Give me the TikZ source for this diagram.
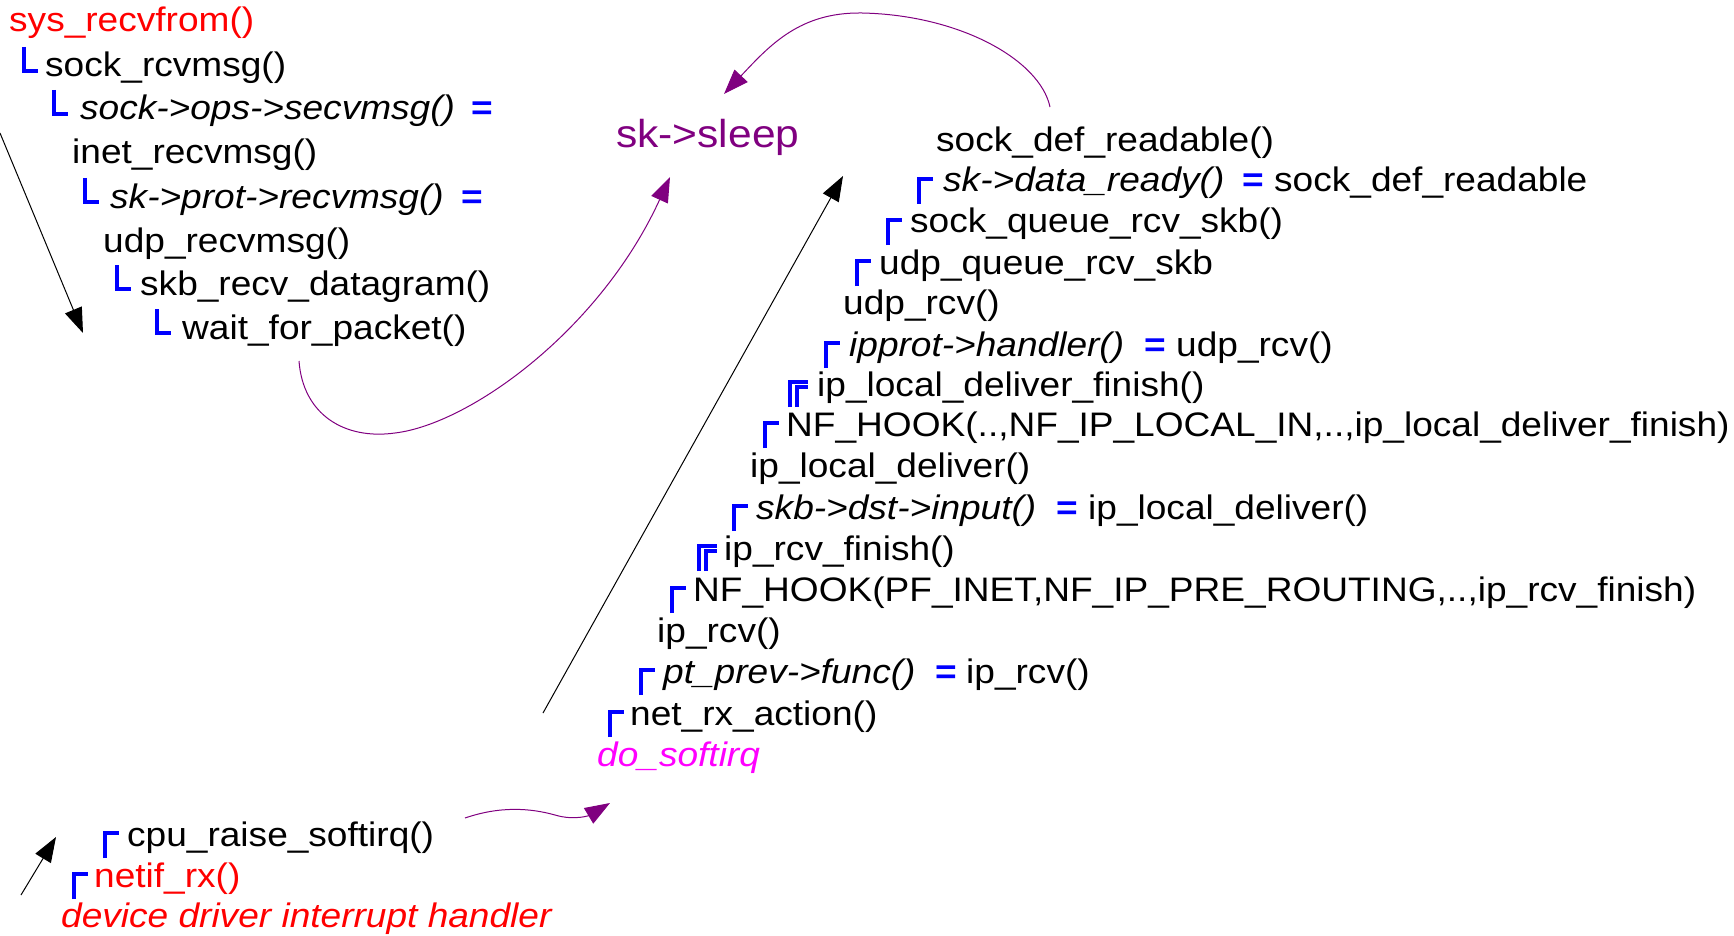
\documentclass[tikz,border=0pt]{standalone}
\usepackage{fontspec}
\setmainfont{Liberation Sans}[FakeStretch=1.09]
\usetikzlibrary{arrows.meta}

\definecolor{sleepc}{RGB}{128,0,128}
\definecolor{irqc}{RGB}{255,0,255}

\begin{document}
\begin{tikzpicture}[
    x=1pt, y=-1pt,
    call/.style={anchor=base west, inner sep=0pt, font=\fontsize{34}{40}\selectfont},
    ptr/.style={call, font=\fontsize{34}{40}\selectfont\itshape},
    eqs/.style={call, text=blue, font=\fontsize{34}{40}\selectfont\bfseries},
    brkt/.style={draw=blue, line width=3.3pt},
    arrow/.style={-{Triangle[length=25pt, width=18pt]}, line width=1pt},
    wake/.style={arrow, sleepc}
]
\useasboundingbox (0,0) rectangle (1734,936);

% Receive call chain
\node[call, text=red] (recvfrom) at (9,32) {sys\_recvfrom()};
\node[call] (rcvmsg) at (45,77) {sock\_rcvmsg()};
\node[ptr] (opsrecv) at (80,120) {sock->ops->secvmsg()};
\node[eqs] (opseq) at (471,120) {=};
\node[call] (inetrecv) at (72,164) {inet\_recvmsg()};
\node[ptr] (protrecv) at (110,208) {sk->prot->recvmsg()};
\node[eqs] (proteq) at (461,208) {=};
\node[call] (udprecv) at (103,252) {udp\_recvmsg()};
\node[call] (dgram) at (140,295) {skb\_recv\_datagram()};
\node[call] (waitpkt) at (182,339) {wait\_for\_packet()};

\draw[brkt] ([shift={(-21,-30)}]rcvmsg.base west) |- ++(14,24);
\draw[brkt] ([shift={(-26,-30)}]opsrecv.base west) |- ++(14,24);
\draw[brkt] ([shift={(-25,-30)}]protrecv.base west) |- ++(14,24);
\draw[brkt] ([shift={(-23,-30)}]dgram.base west) |- ++(14,24);
\draw[brkt] ([shift={(-25,-30)}]waitpkt.base west) |- ++(14,24);

% Wait queue
\node[call, text=sleepc, font=\fontsize{39}{46}\selectfont] (sleep) at (616,148) {sk->sleep};

% Softirq path
\node[call] (defread) at (936,152) {sock\_def\_readable()};
\node[ptr] (dready) at (943,192) {sk->data\_ready()};
\node[eqs] (dreadyeq) at (1242,192) {=};
\node[call] (dreadyval) at (1274,192) {sock\_def\_readable};
\node[call] (queuercv) at (910,233) {sock\_queue\_rcv\_skb()};
\node[call] (udpqueue) at (879,274) {udp\_queue\_rcv\_skb};
\node[call] (udprcv) at (843,314) {udp\_rcv()};
\node[ptr] (handler) at (849,356) {ipprot->handler()};
\node[eqs] (handlereq) at (1144,356) {=};
\node[call] (handlerval) at (1176,356) {udp\_rcv()};
\node[call] (localfin) at (817,396) {ip\_local\_deliver\_finish()};
\node[call] (localhook) at (786,436) {NF\_HOOK(..,NF\_IP\_LOCAL\_IN,..,ip\_local\_deliver\_finish)};
\node[call] (localdel) at (750,477) {ip\_local\_deliver()};
\node[ptr] (dstinput) at (756,519) {skb->dst->input()};
\node[eqs] (dstinputeq) at (1056,519) {=};
\node[call] (dstinputval) at (1088,519) {ip\_local\_deliver()};
\node[call] (rcvfin) at (724,560) {ip\_rcv\_finish()};
\node[call] (prehook) at (693,601) {NF\_HOOK(PF\_INET,NF\_IP\_PRE\_ROUTING,..,ip\_rcv\_finish)};
\node[call] (iprcv) at (657,642) {ip\_rcv()};
\node[ptr] (ptfunc) at (663,683) {pt\_prev->func()};
\node[eqs] (ptfunceq) at (935,683) {=};
\node[call] (ptfuncval) at (966,683) {ip\_rcv()};
\node[call] (rxaction) at (630,725) {net\_rx\_action()};
\node[ptr, text=irqc] (softirq) at (597,766) {do\_softirq};

\draw[brkt] ([shift={(-24,12)}]dready.base west) |- ++(14,-25);
\draw[brkt] ([shift={(-22,12)}]queuercv.base west) |- ++(14,-25);
\draw[brkt] ([shift={(-22,12)}]udpqueue.base west) |- ++(14,-25);
\draw[brkt] ([shift={(-23,12)}]handler.base west) |- ++(14,-25);
\draw[brkt] ([shift={(-27,11)}]localfin.base west) |- ++(18,-25);
\draw[brkt] ([shift={(-20,11)}]localfin.base west) |- ++(11,-20);
\draw[brkt] ([shift={(-21,12)}]localhook.base west) |- ++(14,-25);
\draw[brkt] ([shift={(-22,12)}]dstinput.base west) |- ++(14,-25);
\draw[brkt] ([shift={(-25,11)}]rcvfin.base west) |- ++(18,-25);
\draw[brkt] ([shift={(-18,11)}]rcvfin.base west) |- ++(11,-20);
\draw[brkt] ([shift={(-21,12)}]prehook.base west) |- ++(14,-25);
\draw[brkt] ([shift={(-22,12)}]ptfunc.base west) |- ++(14,-25);
\draw[brkt] ([shift={(-20,12)}]rxaction.base west) |- ++(14,-25);

% Interrupt
\node[call] (raise) at (127,846) {cpu\_raise\_softirq()};
\node[call, text=red] (netifrx) at (94,887) {netif\_rx()};
\node[ptr, text=red] (irq) at (61,927) {device driver interrupt handler};

\draw[brkt] ([shift={(-22,12)}]raise.base west) |- ++(14,-25);
\draw[brkt] ([shift={(-20,12)}]netifrx.base west) |- ++(14,-25);

% Control flow
\coordinate (downs) at (0,133);
\coordinate (downe) at (83,333);
\coordinate (irqs) at (21,895);
\coordinate (irqe) at (56,837);
\coordinate (ups) at (543,713);
\coordinate (upe) at (843,176);
\draw[arrow] (downs) -- (downe);
\draw[arrow] (irqs) -- (irqe);
\draw[arrow] (ups) -- (upe);

% Sleep and wake up
\coordinate (sleeps) at (299,361);
\coordinate (sleepe) at (670,177);
\coordinate (wakes) at (1050,107);
\coordinate (wakee) at (724,94);
\coordinate (raises) at (465,818);
\coordinate (raisee) at (610,803);
\draw[wake] (sleeps) .. controls (303,415) and (345,440) .. (395,433)
    .. controls (470,424) and (600,330) .. (sleepe);
\draw[wake] (wakes) .. controls (1040,60) and (960,15) .. (862,13)
    .. controls (800,12) and (770,45) .. (wakee);
\draw[wake] (raises) .. controls (500,806) and (530,808) .. (555,815)
    .. controls (575,821) and (590,815) .. (raisee);

\end{tikzpicture}
\end{document}
